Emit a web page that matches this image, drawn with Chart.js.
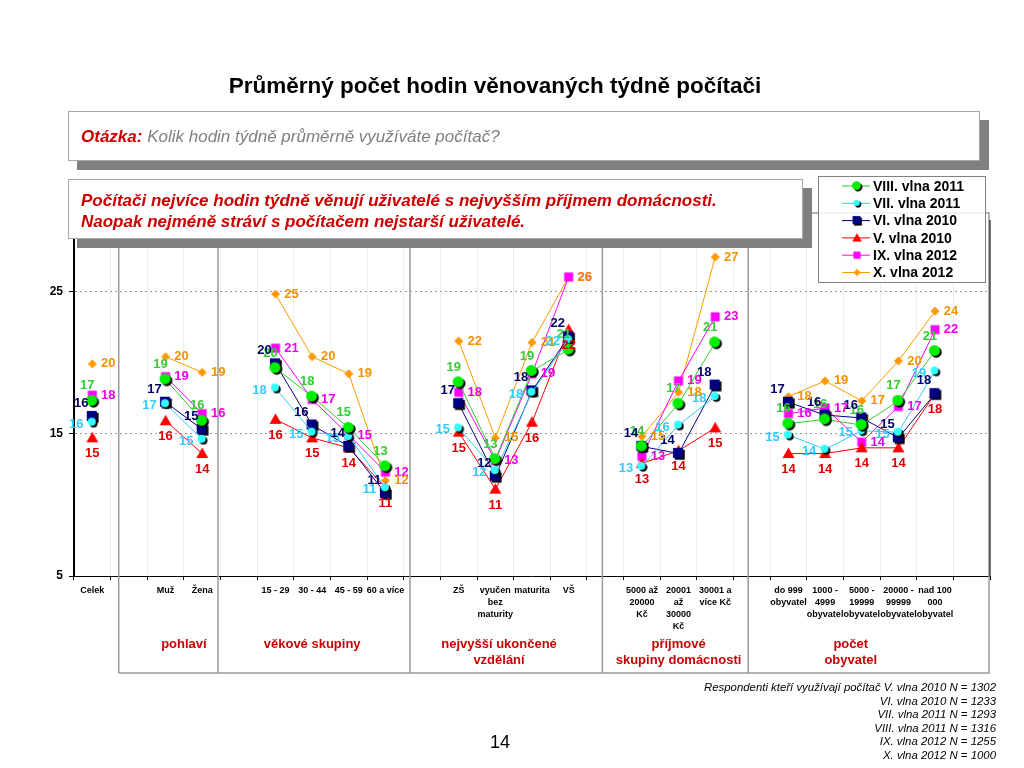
<!DOCTYPE html>
<html>
<head>
<meta charset="utf-8">
<script src="https://cdn.jsdelivr.net/npm/chart.js@4/dist/chart.umd.min.js"></script>
<style>
  body { margin: 0; background: #fff; font-family: "Liberation Sans", Arial, sans-serif; }
  #wrap { position: relative; width: 1024px; height: 768px; overflow: hidden; }
  #chart { position: absolute; left: 0; top: 0; }
  .abs { position: absolute; z-index: 2; }
  .box { background: #fff; border: 1px solid #a6a6a6; box-shadow: 9px 9px 0 #808080; box-sizing: border-box; }
</style>
</head>
<body>
<div id="wrap">
  <canvas id="chart" width="1024" height="768"></canvas>
  <div class="abs" style="left:0; width:990px; top:73px; text-align:center; font-weight:bold; font-size:22.5px;">Průměrný počet hodin věnovaných týdně počítači</div>
  <div class="abs box" style="left:68px; top:111px; width:912px; height:50px; padding:15px 0 0 12px; font-size:17px; font-style:italic;">
    <span style="color:#cc0000; font-weight:bold;">Otázka:</span> <span style="color:#808080;">Kolik hodin týdně průměrně využíváte počítač?</span>
  </div>
  <div class="abs box" style="left:68px; top:179px; width:735px; height:60px; padding:10px 0 0 12px; font-size:17px; font-style:italic; font-weight:bold; color:#cc0000; line-height:21px;">
    Počítači nejvíce hodin týdně věnují uživatelé s nejvyšším příjmem domácnosti.<br>
    Naopak nejméně stráví s počítačem nejstarší uživatelé.
  </div>
  <div class="abs" style="right:28px; top:681px; text-align:right; font-style:italic; font-size:11.4px; line-height:13.6px;">
    Respondenti kteří využívají počítač V. vlna 2010 N = 1302<br>
    VI. vlna 2010 N = 1233<br>
    VII. vlna 2011 N = 1293<br>
    VIII. vlna 2011 N = 1316<br>
    IX. vlna 2012 N = 1255<br>
    X. vlna 2012 N = 1000
  </div>
  <div class="abs" style="left:480px; width:40px; top:732px; text-align:center; font-size:18px;">14</div>
</div>
<script>
const categories = ['Celek', '', 'Muž', 'Žena', '', '15 - 29', '30 - 44', '45 - 59', '60 a více', '',
    'ZŠ', ['vyučen', 'bez', 'maturity'], 'maturita', 'VŠ', '',
    ['5000 až', '20000', 'Kč'], ['20001', 'až', '30000', 'Kč'], ['30001 a', 'více Kč'], '',
    ['do 999', 'obyvatel'], ['1000 -', '4999', 'obyvatel'], ['5000 -', '19999', 'obyvatel'], ['20000 -', '99999', 'obyvatel'], ['nad 100', '000', 'obyvatel'], ''];

const vlna8 = [17.3, null, 18.8, 15.9, null, 19.6, 17.6, 15.4, 12.7, null, 18.6, 13.2, 19.4, 20.9, null, 14.1, 17.1, 21.4, null, 15.7, 16.0, 15.6, 17.3, 20.8, null];
const vlna7 = [15.8, null, 17.1, 14.6, null, 18.2, 15.1, 14.8, 11.2, null, 15.4, 12.4, 17.9, 21.6, null, 12.7, 15.6, 17.6, null, 14.9, 13.9, 15.2, 15.1, 19.4, null];
const vlna6 = [16.2, null, 17.2, 15.3, null, 19.9, 15.6, 14.1, 10.8, null, 17.1, 12.0, 18.0, 21.8, null, 14.1, 13.6, 18.4, null, 17.2, 16.3, 16.1, 14.7, 17.8, null];
const vlna5 = [14.7, null, 15.9, 13.6, null, 16.0, 14.7, 14.0, 11.2, null, 15.1, 11.1, 15.8, 22.3, null, 12.9, 13.8, 15.4, null, 13.6, 13.6, 14.0, 14.0, 17.8, null];
const vlna9 = [17.7, null, 19.0, 16.4, null, 21.0, 17.4, 14.9, 12.3, null, 17.9, 13.1, 19.2, 26.0, null, 13.4, 18.7, 23.2, null, 16.4, 16.8, 14.4, 16.9, 22.3, null];
const vlna10 = [19.9, null, 20.4, 19.3, null, 24.8, 20.4, 19.2, 11.7, null, 21.5, 14.7, 21.4, 26.0, null, 14.8, 17.9, 27.4, null, 17.6, 18.7, 17.3, 20.1, 23.6, null];

const yTicks = [5, 15, 25];

const groupNames = [['pohlaví'], ['věkové skupiny'], ['nejvyšší ukončené', 'vzdělání'], ['příjmové', 'skupiny domácnosti'], ['počet', 'obyvatel']];
const groupAt = [2.5, 6, 11.1, 16, 20.7];
const dividersAt = [0.72, 3.43, 8.67, 13.92, 17.9];

function marker(shape, color, size, shadow) {
    const s = size + 5;
    const c = document.createElement('canvas');
    c.width = s; c.height = s;
    const g = c.getContext('2d');
    const draw = (dx, dy, fill) => {
        const cx = s / 2 + dx, cy = s / 2 + dy, r = size / 2;
        g.fillStyle = fill;
        g.beginPath();
        if (shape === 'circle') g.arc(cx, cy, r, 0, Math.PI * 2);
        else if (shape === 'square') g.rect(cx - r, cy - r, size, size);
        else if (shape === 'triangle') { g.moveTo(cx, cy - r); g.lineTo(cx + r, cy + r * 0.75); g.lineTo(cx - r, cy + r * 0.75); g.closePath(); }
        else { g.moveTo(cx, cy - r); g.lineTo(cx + r, cy); g.lineTo(cx, cy + r); g.lineTo(cx - r, cy); g.closePath(); }
        g.fill();
    };
    if (shadow) draw(1.2, 1.2, '#000');
    draw(shadow ? -0.6 : 0, shadow ? -0.6 : 0, color);
    return c;
}

const series = [
    { label: 'VIII. vlna 2011', data: vlna8, line: '#33cc33', text: '#33cc33', mark: marker('circle', '#00ee00', 11, true), off: [-5, -15] },
    { label: 'VII. vlna 2011', data: vlna7, line: '#33ccff', text: '#33ccff', mark: marker('circle', '#33ffff', 8, true), off: [-16, 2] },
    { label: 'VI. vlna 2010', data: vlna6, line: '#000080', text: '#000066', mark: marker('square', '#000080', 10, true), off: [-11, -13] },
    { label: 'V. vlna 2010', data: vlna5, line: '#ff0000', text: '#e00000', mark: marker('triangle', '#ff0000', 12, false), off: [0, 16] },
    { label: 'IX. vlna 2012', data: vlna9, line: '#ff00ff', text: '#ee00ee', mark: marker('square', '#ff00ff', 9, false), off: [16, 0] },
    { label: 'X. vlna 2012', data: vlna10, line: '#ff9900', text: '#f39200', mark: marker('diamond', '#ff9900', 9, false), off: [16, 0] }
];

const catPx = (chart, i) => {
    const x = chart.scales.x;
    return x.left + (i + 0.5) * x.width / categories.length;
};

const decorPlugin = {
    id: 'decor',
    beforeDatasetsDraw(chart) {
        const ctx = chart.ctx, a = chart.chartArea;
        const top = a.top - 7, bottom = 673, right = a.right - 1;
        ctx.save();
        ctx.strokeStyle = '#999';
        ctx.lineWidth = 1.5;
        ctx.beginPath();
        ctx.moveTo(catPx(chart, dividersAt[0]), top); ctx.lineTo(right, top); ctx.lineTo(right, bottom);
        ctx.lineTo(catPx(chart, dividersAt[0]), bottom);
        dividersAt.forEach(d => { ctx.moveTo(catPx(chart, d), top); ctx.lineTo(catPx(chart, d), bottom); });
        ctx.stroke();
        ctx.strokeStyle = '#000';
        ctx.lineWidth = 1;
        ctx.beginPath();
        ctx.moveTo(a.left - 0.5, a.top); ctx.lineTo(a.left - 0.5, a.bottom);
        ctx.moveTo(a.right, a.top); ctx.lineTo(a.right, a.bottom);
        ctx.stroke();
        ctx.restore();
    },
    afterDatasetsDraw(chart) {
        const ctx = chart.ctx;
        ctx.save();
        ctx.font = 'bold 13px "Liberation Sans", Arial, sans-serif';
        ctx.textAlign = 'center';
        ctx.textBaseline = 'middle';
        series.forEach((s, i) => {
            const meta = chart.getDatasetMeta(i);
            ctx.fillStyle = s.text;
            meta.data.forEach((pt, j) => {
                const v = s.data[j];
                if (v == null) return;
                ctx.fillText(Math.round(v), pt.x + s.off[0], pt.y + s.off[1]);
            });
        });
        ctx.restore();
    },
    afterDraw(chart) {
        const ctx = chart.ctx;
        ctx.save();
        ctx.font = 'bold 13px "Liberation Sans", Arial, sans-serif';
        ctx.fillStyle = '#cc0000';
        ctx.textAlign = 'center';
        ctx.textBaseline = 'middle';
        groupNames.forEach((lines, g) => {
            lines.forEach((t, k) => ctx.fillText(t, catPx(chart, groupAt[g]), 644 + k * 16));
        });
        // legend
        const lx = 818, ly = 176;
        ctx.fillStyle = 'rgba(255,255,255,0.85)';
        ctx.fillRect(lx, ly, 167, 106);
        ctx.strokeStyle = '#808080';
        ctx.lineWidth = 1;
        ctx.strokeRect(lx + 0.5, ly + 0.5, 167, 106);
        ctx.textAlign = 'left';
        ctx.font = 'bold 14px "Liberation Sans", Arial, sans-serif';
        series.forEach((s, i) => {
            const y = ly + 10 + i * 17.3;
            ctx.strokeStyle = s.line;
            ctx.beginPath(); ctx.moveTo(lx + 24, y); ctx.lineTo(lx + 52, y); ctx.stroke();
            const m = s.mark;
            ctx.drawImage(m, lx + 39 - m.width / 2 * 0.8, y - m.height / 2 * 0.8, m.width * 0.8, m.height * 0.8);
            ctx.fillStyle = '#000';
            ctx.fillText(s.label, lx + 55, y + 1);
        });
        ctx.restore();
    }
};

new Chart(document.getElementById('chart'), {
    type: 'line',
    data: {
        labels: categories,
        datasets: series.map(s => ({
            label: s.label,
            data: s.data,
            borderColor: s.line,
            backgroundColor: s.line,
            borderWidth: 1,
            pointStyle: s.mark,
            pointRadius: 5,
            spanGaps: false,
            tension: 0
        }))
    },
    options: {
        responsive: false,
        animation: false,
        devicePixelRatio: 1,
        layout: { padding: { top: 220, right: 34, left: 0, bottom: 0 } },
        plugins: { legend: { display: false }, tooltip: { enabled: false } },
        scales: {
            x: {
                offset: true,
                afterFit: s => { s.height = 192; },
                border: { color: '#000', width: 1 },
                grid: { color: '#efefef', tickColor: '#000', tickLength: 4, offset: true },
                ticks: {
                    autoSkip: false, maxRotation: 0, minRotation: 0, padding: 5, color: '#000',
                    font: { family: '"Liberation Sans", Arial, sans-serif', size: 9, weight: 'bold', lineHeight: 1.33 }
                }
            },
            y: {
                min: 5, max: 30,
                afterFit: s => { s.width = 74; },
                afterBuildTicks: s => { s.ticks = yTicks.map(v => ({ value: v })); },
                border: { color: '#000', width: 1, dash: [2, 3] },
                grid: {
                    color: c => c.tick && c.tick.value === 5 ? 'rgba(0,0,0,0)' : '#9a9a9a',
                    tickColor: '#000', tickLength: 5, tickBorderDash: []
                },
                ticks: { padding: 6, color: '#000', font: { family: '"Liberation Sans", Arial, sans-serif', size: 12, weight: 'bold' } }
            }
        }
    },
    plugins: [decorPlugin]
});
</script>
</body>
</html>
